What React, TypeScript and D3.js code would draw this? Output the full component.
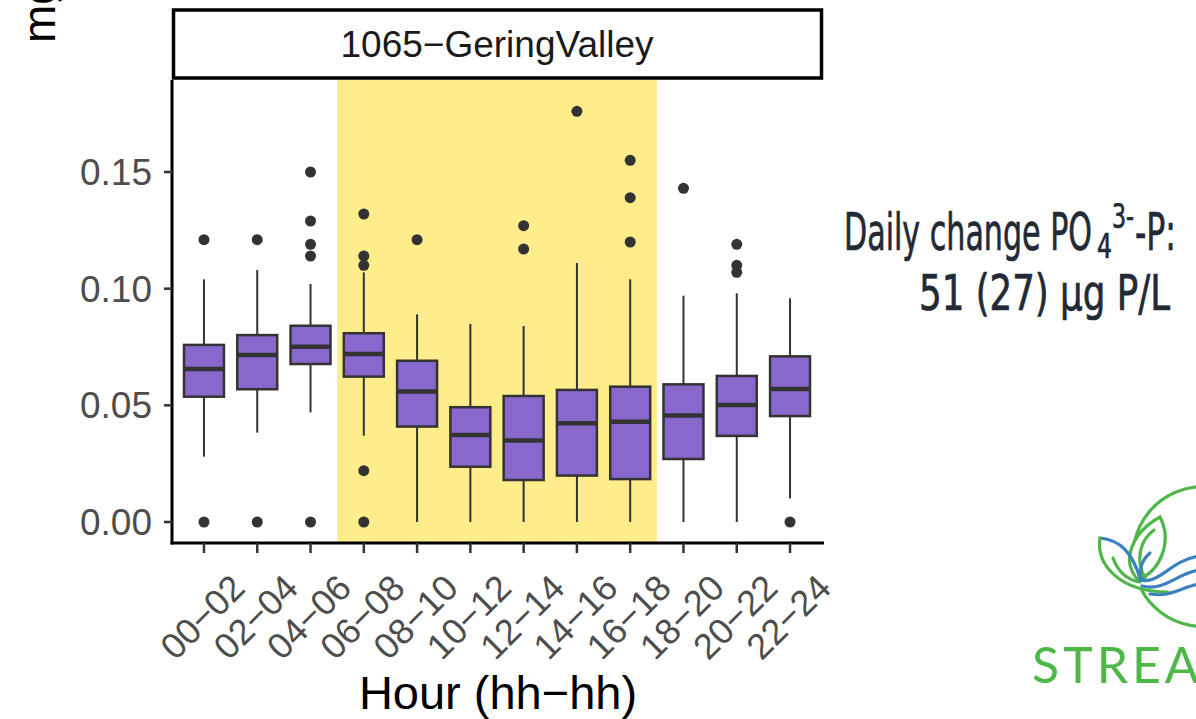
import React from "react";
import * as d3 from "d3";

// hour bins and box statistics (mg/L)
const hours = ["00−02", "02−04", "04−06", "06−08", "08−10", "10−12", "12−14", "14−16", "16−18", "18−20", "20−22", "22−24"];
const whiskerLow = [0.028, 0.0383, 0.047, 0.037, 0, 0, 0, 0, 0, 0, 0, 0.0101];
const q1 = [0.0537, 0.0569, 0.0677, 0.0623, 0.0409, 0.0237, 0.018, 0.0199, 0.0184, 0.027, 0.0369, 0.0454];
const median = [0.0656, 0.0716, 0.0751, 0.072, 0.0559, 0.0373, 0.0349, 0.0423, 0.043, 0.0456, 0.0501, 0.057];
const q3 = [0.0759, 0.0801, 0.0841, 0.0809, 0.0691, 0.0492, 0.054, 0.0566, 0.058, 0.059, 0.0626, 0.071];
const whiskerHigh = [0.104, 0.108, 0.102, 0.107, 0.089, 0.0849, 0.084, 0.111, 0.104, 0.097, 0.098, 0.0959];
const outliers = [
  [0.121, 0],
  [0.121, 0],
  [0.15, 0.129, 0.119, 0.114, 0],
  [0.132, 0.114, 0.11, 0.022, 0],
  [0.121],
  [],
  [0.127, 0.117],
  [0.176],
  [0.155, 0.139, 0.12],
  [0.143],
  [0.119, 0.11, 0.107],
  [0],
];
const yTicks = [0, 0.05, 0.1, 0.15];
const daylight = ["06−08", "16−18"];

const W = 1196;
const H = 719;
const left = 172;
const right = 822;
const panelTop = 80;
const panelBottom = 543;

const App = () => {
  const x = d3.scalePoint<string>().domain(hours).range([left, right]).padding(0.6);
  const step = x.step();
  const boxW = step * 0.75;
  const y = d3.scaleLinear().domain([0, 0.15]).range([522, 172]);

  const boxFill = "#8968CD";
  const ink = "#333333";
  const green = "#4DB748";
  const blue = "#3D80C0";
  const narrow = "'Liberation Sans Narrow', 'DejaVu Sans Condensed', sans-serif";

  return (
    <svg
      width={W}
      height={H}
      style={{ position: "absolute", left: 0, top: 0, overflow: "hidden", background: "#fff" }}
      fontFamily="'Liberation Sans', Arial, sans-serif"
    >
      {/* daytime band */}
      <rect
        x={x(daylight[0])! - step / 2}
        y={panelTop}
        width={x(daylight[1])! - x(daylight[0])! + step}
        height={panelBottom - panelTop}
        fill="#FFEC8B"
      />

      {/* strip */}
      <rect x={173.5} y={10} width={648} height={68} fill="#fff" stroke="#000" strokeWidth={3.5} />
      <text x={(left + right) / 2} y={57} fontSize={37} textAnchor="middle" fill="#1a1a1a">
        1065−GeringValley
      </text>

      {/* boxes */}
      {hours.map((h, i) => {
        const cx = x(h)!;
        return (
          <g key={h}>
            <line x1={cx} x2={cx} y1={y(whiskerHigh[i])} y2={y(q3[i])} stroke={ink} strokeWidth={2} />
            <line x1={cx} x2={cx} y1={y(q1[i])} y2={y(whiskerLow[i])} stroke={ink} strokeWidth={2} />
            <rect
              x={cx - boxW / 2}
              y={y(q3[i])}
              width={boxW}
              height={y(q1[i]) - y(q3[i])}
              fill={boxFill}
              stroke={ink}
              strokeWidth={2.5}
            />
            <line x1={cx - boxW / 2} x2={cx + boxW / 2} y1={y(median[i])} y2={y(median[i])} stroke={ink} strokeWidth={4.5} />
            {outliers[i].map((v, j) => (
              <circle key={j} cx={cx} cy={y(v)} r={5.5} fill={ink} />
            ))}
          </g>
        );
      })}

      {/* axes */}
      <line x1={left} x2={left} y1={panelTop} y2={panelBottom + 1.5} stroke="#000" strokeWidth={3} />
      <line x1={left - 1.5} x2={right + 2} y1={panelBottom} y2={panelBottom} stroke="#000" strokeWidth={3} />
      {yTicks.map((t) => (
        <g key={t}>
          <line x1={left - 8} x2={left} y1={y(t)} y2={y(t)} stroke={ink} strokeWidth={2.5} />
          <text x={left - 20} y={y(t) + 13} fontSize={37} textAnchor="end" fill="#4D4D4D">
            {d3.format(".2f")(t)}
          </text>
        </g>
      ))}
      {hours.map((h) => (
        <g key={h}>
          <line x1={x(h)} x2={x(h)} y1={panelBottom} y2={panelBottom + 10} stroke={ink} strokeWidth={2.5} />
          <text
            transform={`translate(${x(h)! + 43},${590}) rotate(-45)`}
            fontSize={36}
            textAnchor="end"
            fill="#4D4D4D"
          >
            {h}
          </text>
        </g>
      ))}
      <text x={(left + right) / 2 + 1} y={709} fontSize={47} textAnchor="middle" fill="#000">
        Hour (hh−hh)
      </text>
      <text transform="translate(55,43) rotate(-90)" fontSize={46} fill="#000">
        mg P/L
      </text>

      {/* annotation */}
      <g fill="#222A36" stroke="#222A36" strokeWidth={0.7} fontFamily={narrow}>
        <text fontSize={52}>
          <tspan x={844} y={250} textLength={248} lengthAdjust="spacingAndGlyphs">Daily change PO</tspan>
          <tspan x={1097} y={258} fontSize={33} textLength={15} lengthAdjust="spacingAndGlyphs">4</tspan>
          <tspan x={1112} y={228} fontSize={33} textLength={22} lengthAdjust="spacingAndGlyphs">3-</tspan>
          <tspan x={1135} y={250} textLength={41} lengthAdjust="spacingAndGlyphs">-P:</tspan>
        </text>
        <text x={919} y={310} fontSize={50} textLength={251} lengthAdjust="spacingAndGlyphs">
          51 (27) μg P/L
        </text>
      </g>

      {/* logo */}
      <g fill="none" strokeWidth={3.2} strokeLinecap="round">
        <path d="M1135,540 A70,70 0 1 1 1141,589" stroke={green} />
        <path d="M1138,580 C1120,560 1133,532 1160,517 C1172,540 1162,570 1138,580 Z" stroke={green} />
        <path d="M1145,578 C1135,560 1140,540 1154,530" stroke={green} />
        <path d="M1100,538 C1120,540 1132,552 1140,578" stroke={blue} />
        <path d="M1100,538 C1096,565 1120,592 1168,592" stroke={green} />
        <path d="M1113,558 C1118,572 1128,580 1140,582" stroke={green} />
        <path d="M1150,553 C1142,560 1138,570 1142,580" stroke={blue} />
        <path d="M1140,580 C1160,585 1170,560 1200,556" stroke={blue} />
        <path d="M1142,586 C1165,592 1178,572 1200,570" stroke={blue} />
        <path d="M1150,594 C1172,598 1185,585 1200,584" stroke={blue} />
      </g>
      <text x={1032} y={683} fontSize={50} fill={green} fontFamily="Lato, 'Open Sans', sans-serif" letterSpacing={4}>
        STREAMS
      </text>
    </svg>
  );
};

export default App;
